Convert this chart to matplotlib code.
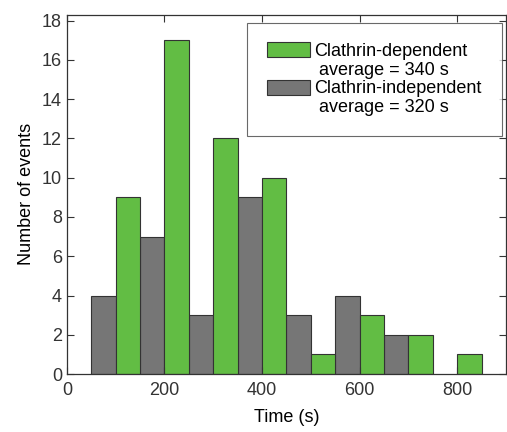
import matplotlib.pyplot as plt
from matplotlib.patches import Patch

plt.rcParams['font.family'] = ['Liberation Sans', 'DejaVu Sans']

# bin left edges (s) and counts
dep_left = [100, 200, 300, 400, 500, 600, 700, 800]
dep_count = [9, 17, 12, 10, 1, 3, 2, 1]
ind_left = [50, 150, 250, 350, 450, 550, 650]
ind_count = [4, 7, 3, 9, 3, 4, 2]
bin_width = 50

green = '#62bd44'
gray = '#767676'
edge = '#333333'

fig = plt.figure(figsize=(5.07, 4.32), dpi=100)
ax = fig.add_axes([0.132, 0.134, 0.866, 0.832])

ax.bar(ind_left, ind_count, width=bin_width, align='edge', color=gray, edgecolor=edge, linewidth=0.8)
ax.bar(dep_left, dep_count, width=bin_width, align='edge', color=green, edgecolor=edge, linewidth=0.8)

ax.set_xlim(0, 900)
ax.set_ylim(0, 18.3)
ax.set_xticks([0, 200, 400, 600, 800])
ax.set_yticks(range(0, 19, 2))
ax.tick_params(direction='in', top=True, right=True, labelsize=13, length=5, width=0.8, colors='#333333')
ax.tick_params(axis='x', pad=6)
for s in ax.spines.values():
    s.set_color('#333333')
    s.set_linewidth(0.9)

ax.set_xlabel('Time (s)', fontsize=13, labelpad=7)
ax.set_ylabel('Number of events', fontsize=13, labelpad=5)

blank = Patch(facecolor='none', edgecolor='none')
handles = [Patch(facecolor=green, edgecolor=edge, linewidth=0.8), blank,
           Patch(facecolor=gray, edgecolor=edge, linewidth=0.8), blank]
labels = ['Clathrin-dependent', ' average = 340 s', 'Clathrin-independent', ' average = 320 s']
leg = ax.legend(handles, labels, loc='upper right', bbox_to_anchor=(0.99, 0.978), fontsize=13,
                frameon=True, fancybox=False, edgecolor='#444444', handlelength=2.4, handleheight=0.9,
                handletextpad=0.25, labelspacing=0.05, borderpad=1.1, borderaxespad=0)
leg.get_frame().set_linewidth(0.8)

plt.savefig('out.png')
